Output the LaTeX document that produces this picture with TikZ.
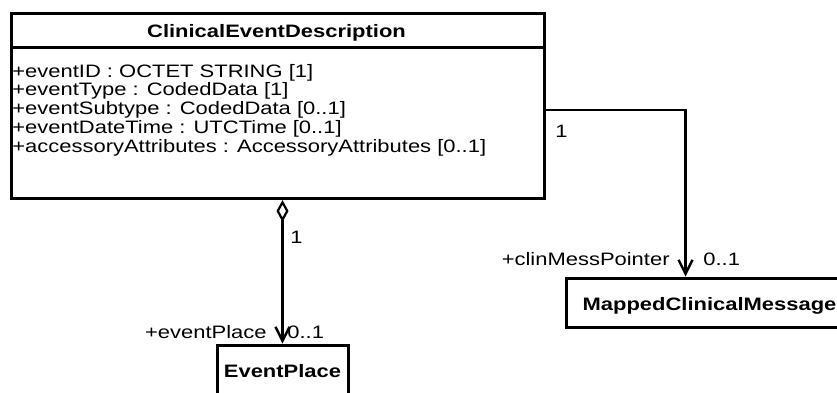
\documentclass[tikz,border=0pt]{standalone}
\usepackage{fontspec}
\setmainfont{Liberation Sans}[FakeStretch=1.22]
\usetikzlibrary{arrows.meta}
\begin{document}
\begin{tikzpicture}[x=0.5pt,y=0.5pt,
  every node/.style={font=\fontsize{9}{9.4}\selectfont},
  classbox/.style={draw, line width=1.5pt, inner sep=0pt},
  titletext/.style={font=\fontsize{9}{9.4}\selectfont\bfseries, inner sep=0pt},
  attrtext/.style={inner sep=0pt, anchor=base west},
  lbl/.style={inner sep=0pt},
  smallbox/.style={draw, line width=1.5pt, font=\fontsize{9}{9.4}\selectfont\bfseries,
    text height=8pt, inner ysep=8pt, inner xsep=0pt},
  assoc/.style={line width=1.1pt, -{Straight Barb[length=7pt,width=7pt,line width=1.2pt]}},
  aggr/.style={line width=1.1pt, {Diamond[open,length=11pt,width=6pt,line width=1.1pt]}-{Straight Barb[length=7pt,width=7pt,line width=1.2pt]}}
]
\useasboundingbox (0,0) rectangle (837,-392);

% main class
\node[classbox, anchor=north west, minimum width=266.5pt, minimum height=92.5pt] (ced) at (10,-12) {};
\coordinate (sepl) at (10,-47);
\draw[line width=1.5pt] (sepl) -- (sepl -| ced.east);
\node[titletext, anchor=base] (cedtitle) at (276.5,-37) {ClinicalEventDescription};
\node[attrtext] (a1) at (12,-77) {+eventID : OCTET STRING [1]};
\node[attrtext] (a2) at (12,-95.8) {+eventType : CodedData [1]};
\node[attrtext] (a3) at (12,-114.6) {+eventSubtype : CodedData [0..1]};
\node[attrtext] (a4) at (12,-133.4) {+eventDateTime : UTCTime [0..1]};
\node[attrtext] (a5) at (12,-152.2) {+accessoryAttributes : AccessoryAttributes [0..1]};

% other classes
\node[smallbox, anchor=base, minimum width=143.5pt, text depth=0.5pt] (mcm) at (709.5,-310) {MappedClinicalMessage};
\node[smallbox, anchor=base, minimum width=65.5pt, text depth=4pt] (ep) at (282.5,-377) {EventPlace};

% connectors
\coordinate (mcmin) at ([xshift=60.5pt]mcm.north west);
\draw[assoc] (ced.east |- 0,-110) -| (mcmin);
\coordinate (epin) at (ep.north);
\draw[aggr] (ced.south -| epin) -- (epin);

% labels
\node[lbl, anchor=base west] (m1) at (555,-137) {1};
\node[lbl, anchor=base east] (rcmp) at (670,-265) {+clinMessPointer};
\node[lbl, anchor=base west] (m2) at (703,-265) {0..1};
\node[lbl, anchor=base west] (m3) at (290,-243) {1};
\node[lbl, anchor=base east] (rep) at (267,-338) {+eventPlace};
\node[lbl, anchor=base west] (m4) at (287,-338) {0..1};
\end{tikzpicture}
\end{document}
